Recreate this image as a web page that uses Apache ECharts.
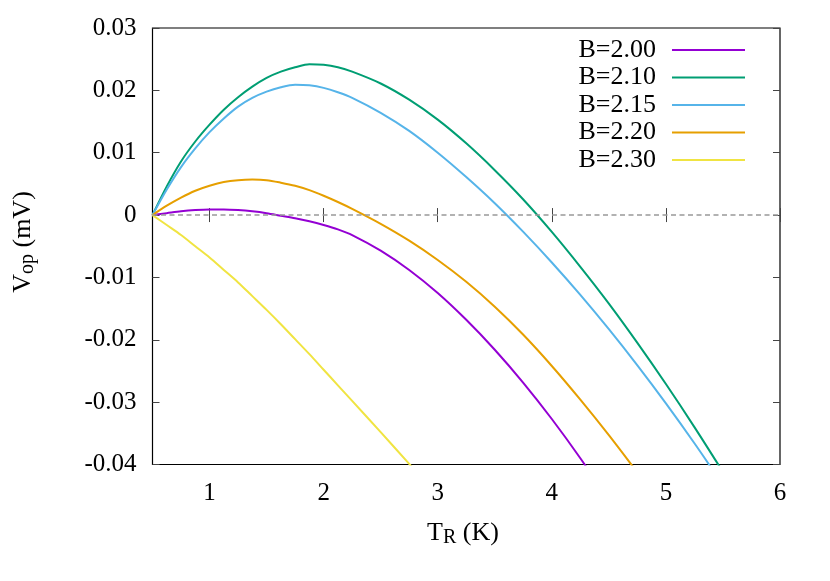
<!DOCTYPE html>
<html>
<head>
<meta charset="utf-8">
<script src="https://cdn.jsdelivr.net/npm/echarts@6/dist/echarts.min.js"></script>
<style>
  html, body { margin: 0; padding: 0; background: #fff; }
  #chart { width: 830px; height: 581px; }
</style>
</head>
<body>
<div id="chart"></div>
<script>
// T_R (K) sample points
var tempK = [0.5, 0.625, 0.75, 0.875, 1.0, 1.125, 1.25, 1.375, 1.5, 1.625, 1.75, 1.875, 2.0, 2.125,
  2.25, 2.5, 2.75, 3.0, 3.25, 3.5, 3.75, 4.0, 4.25, 4.5, 4.75, 5.0, 5.25, 5.5];

// V_op (mV) for each B
var vB200 = [0, 0.0003, 0.0006, 0.0008, 0.0009, 0.0009, 0.0008, 0.0006, 0.0003, -0.0001, -0.0005, -0.0010, -0.0016, -0.0023,
  -0.0032, -0.0057, -0.0088, -0.0125, -0.0168, -0.0216, -0.0269, -0.0327, -0.0390, -0.0458];
var vB210 = [0, 0.0046, 0.0086, 0.0118, 0.0145, 0.0169, 0.0189, 0.0206, 0.0220, 0.0230, 0.0237, 0.0242, 0.0241, 0.0237,
  0.0230, 0.0211, 0.0185, 0.0153, 0.0115, 0.0072, 0.0025, -0.0027, -0.0083, -0.0142, -0.0205, -0.0271, -0.0340, -0.0412];
var vB215 = [0, 0.0041, 0.0077, 0.0107, 0.0133, 0.0155, 0.0174, 0.0188, 0.0198, 0.0205, 0.0209, 0.0208, 0.0204, 0.0197,
  0.0188, 0.0164, 0.0135, 0.0100, 0.0061, 0.0019, -0.0027, -0.0076, -0.0128, -0.0183, -0.0241, -0.0302, -0.0366, -0.0433];
var vB220 = [0, 0.0015, 0.0028, 0.0039, 0.0047, 0.0053, 0.0056, 0.0057, 0.0056, 0.0052, 0.0047, 0.0040, 0.0031, 0.0021,
  0.0010, -0.0014, -0.0041, -0.0072, -0.0107, -0.0147, -0.0192, -0.0242, -0.0296, -0.0353, -0.0413];
var vB230 = [0, -0.0016, -0.0032, -0.0050, -0.0068, -0.0088, -0.0108, -0.0130, -0.0152, -0.0175, -0.0199, -0.0223, -0.0248, -0.0273,
  -0.0298, -0.0348, -0.0399, -0.0450];

var seriesNames = ['B=2.00', 'B=2.10', 'B=2.15', 'B=2.20', 'B=2.30'];
var seriesColors = ['#9400d3', '#009e73', '#56b4e9', '#e69f00', '#f0e442'];
var xTicks = [1, 2, 3, 4, 5, 6];

function pairs (vals) {
  var out = [];
  for (var i = 0; i < vals.length; i++) out.push([tempK[i], vals[i]]);
  return out;
}

var chartDom = document.getElementById('chart');
var myChart = echarts.init(chartDom);
var option;

var font = 'Liberation Serif';
var tickStyle = { show: true, inside: true, length: 7, lineStyle: { color: '#444', width: 1 } };

var allVals = [vB200, vB210, vB215, vB220, vB230];
var series = allVals.map(function (vals, i) {
  return {
    name: seriesNames[i],
    type: 'line',
    data: pairs(vals),
    smooth: 0.3,
    showSymbol: false,
    clip: true,
    z: 3,
    lineStyle: { color: seriesColors[i], width: 2 },
    itemStyle: { color: seriesColors[i] }
  };
});
// zero reference line
series[0].markLine = {
  silent: true,
  symbol: 'none',
  label: { show: false },
  lineStyle: { color: '#999', type: [5, 3.5], width: 1.5 },
  data: [{ yAxis: 0 }]
};

var titleRich = {
  m: { fontFamily: font, fontSize: 26, color: '#000', lineHeight: 30 },
  s: { fontFamily: font, fontSize: 20, color: '#000', lineHeight: 19, verticalAlign: 'bottom' }
};

option = {
  animation: false,
  backgroundColor: '#fff',
  grid: {
    left: 152.5, top: 28, right: 50, bottom: 116.5,
    show: true, borderColor: '#000', borderWidth: 1.2
  },
  legend: {
    orient: 'vertical',
    right: 80,
    top: 32,
    align: 'right',
    icon: 'rect',
    itemWidth: 73,
    itemHeight: 2,
    itemGap: 1.5,
    textStyle: { fontFamily: font, fontSize: 26, color: '#000', lineHeight: 26, padding: [0, 11, 0, 0] },
    data: seriesNames
  },
  xAxis: [{
    type: 'value',
    min: 0.5, max: 6,
    axisLine: { show: false },
    splitLine: { show: false },
    axisTick: Object.assign({ customValues: xTicks }, tickStyle),
    axisLabel: { customValues: xTicks, fontFamily: font, fontSize: 25, color: '#000', margin: 16 }
  }, {
    type: 'value',
    position: 'top',
    min: 0.5, max: 6,
    axisLine: { show: false },
    splitLine: { show: false },
    axisTick: Object.assign({ customValues: xTicks }, tickStyle),
    axisLabel: { show: false }
  }],
  yAxis: [{
    type: 'value',
    min: -0.04, max: 0.03, interval: 0.01,
    axisLine: { show: false },
    splitLine: { show: false },
    axisTick: tickStyle,
    axisLabel: {
      fontFamily: font, fontSize: 25, color: '#000', margin: 16,
      formatter: function (v) { return v === 0 ? '0' : String(Math.round(v * 100) / 100); }
    }
  }, {
    type: 'value',
    position: 'right',
    min: -0.04, max: 0.03, interval: 0.01,
    axisLine: { show: false },
    splitLine: { show: false },
    axisTick: tickStyle,
    axisLabel: { show: false }
  }],
  graphic: [{
    type: 'text',
    x: 463, y: 533,
    style: {
      text: '{m|T}{s|R}{m| (K)}',
      align: 'center', verticalAlign: 'middle',
      rich: titleRich
    }
  }, {
    type: 'text',
    x: 23, y: 242,
    rotation: Math.PI / 2,
    style: {
      text: '{m|V}{s|op}{m| (mV)}',
      align: 'center', verticalAlign: 'middle',
      rich: titleRich
    }
  }],
  series: series
};

option && myChart.setOption(option);
</script>
</body>
</html>
